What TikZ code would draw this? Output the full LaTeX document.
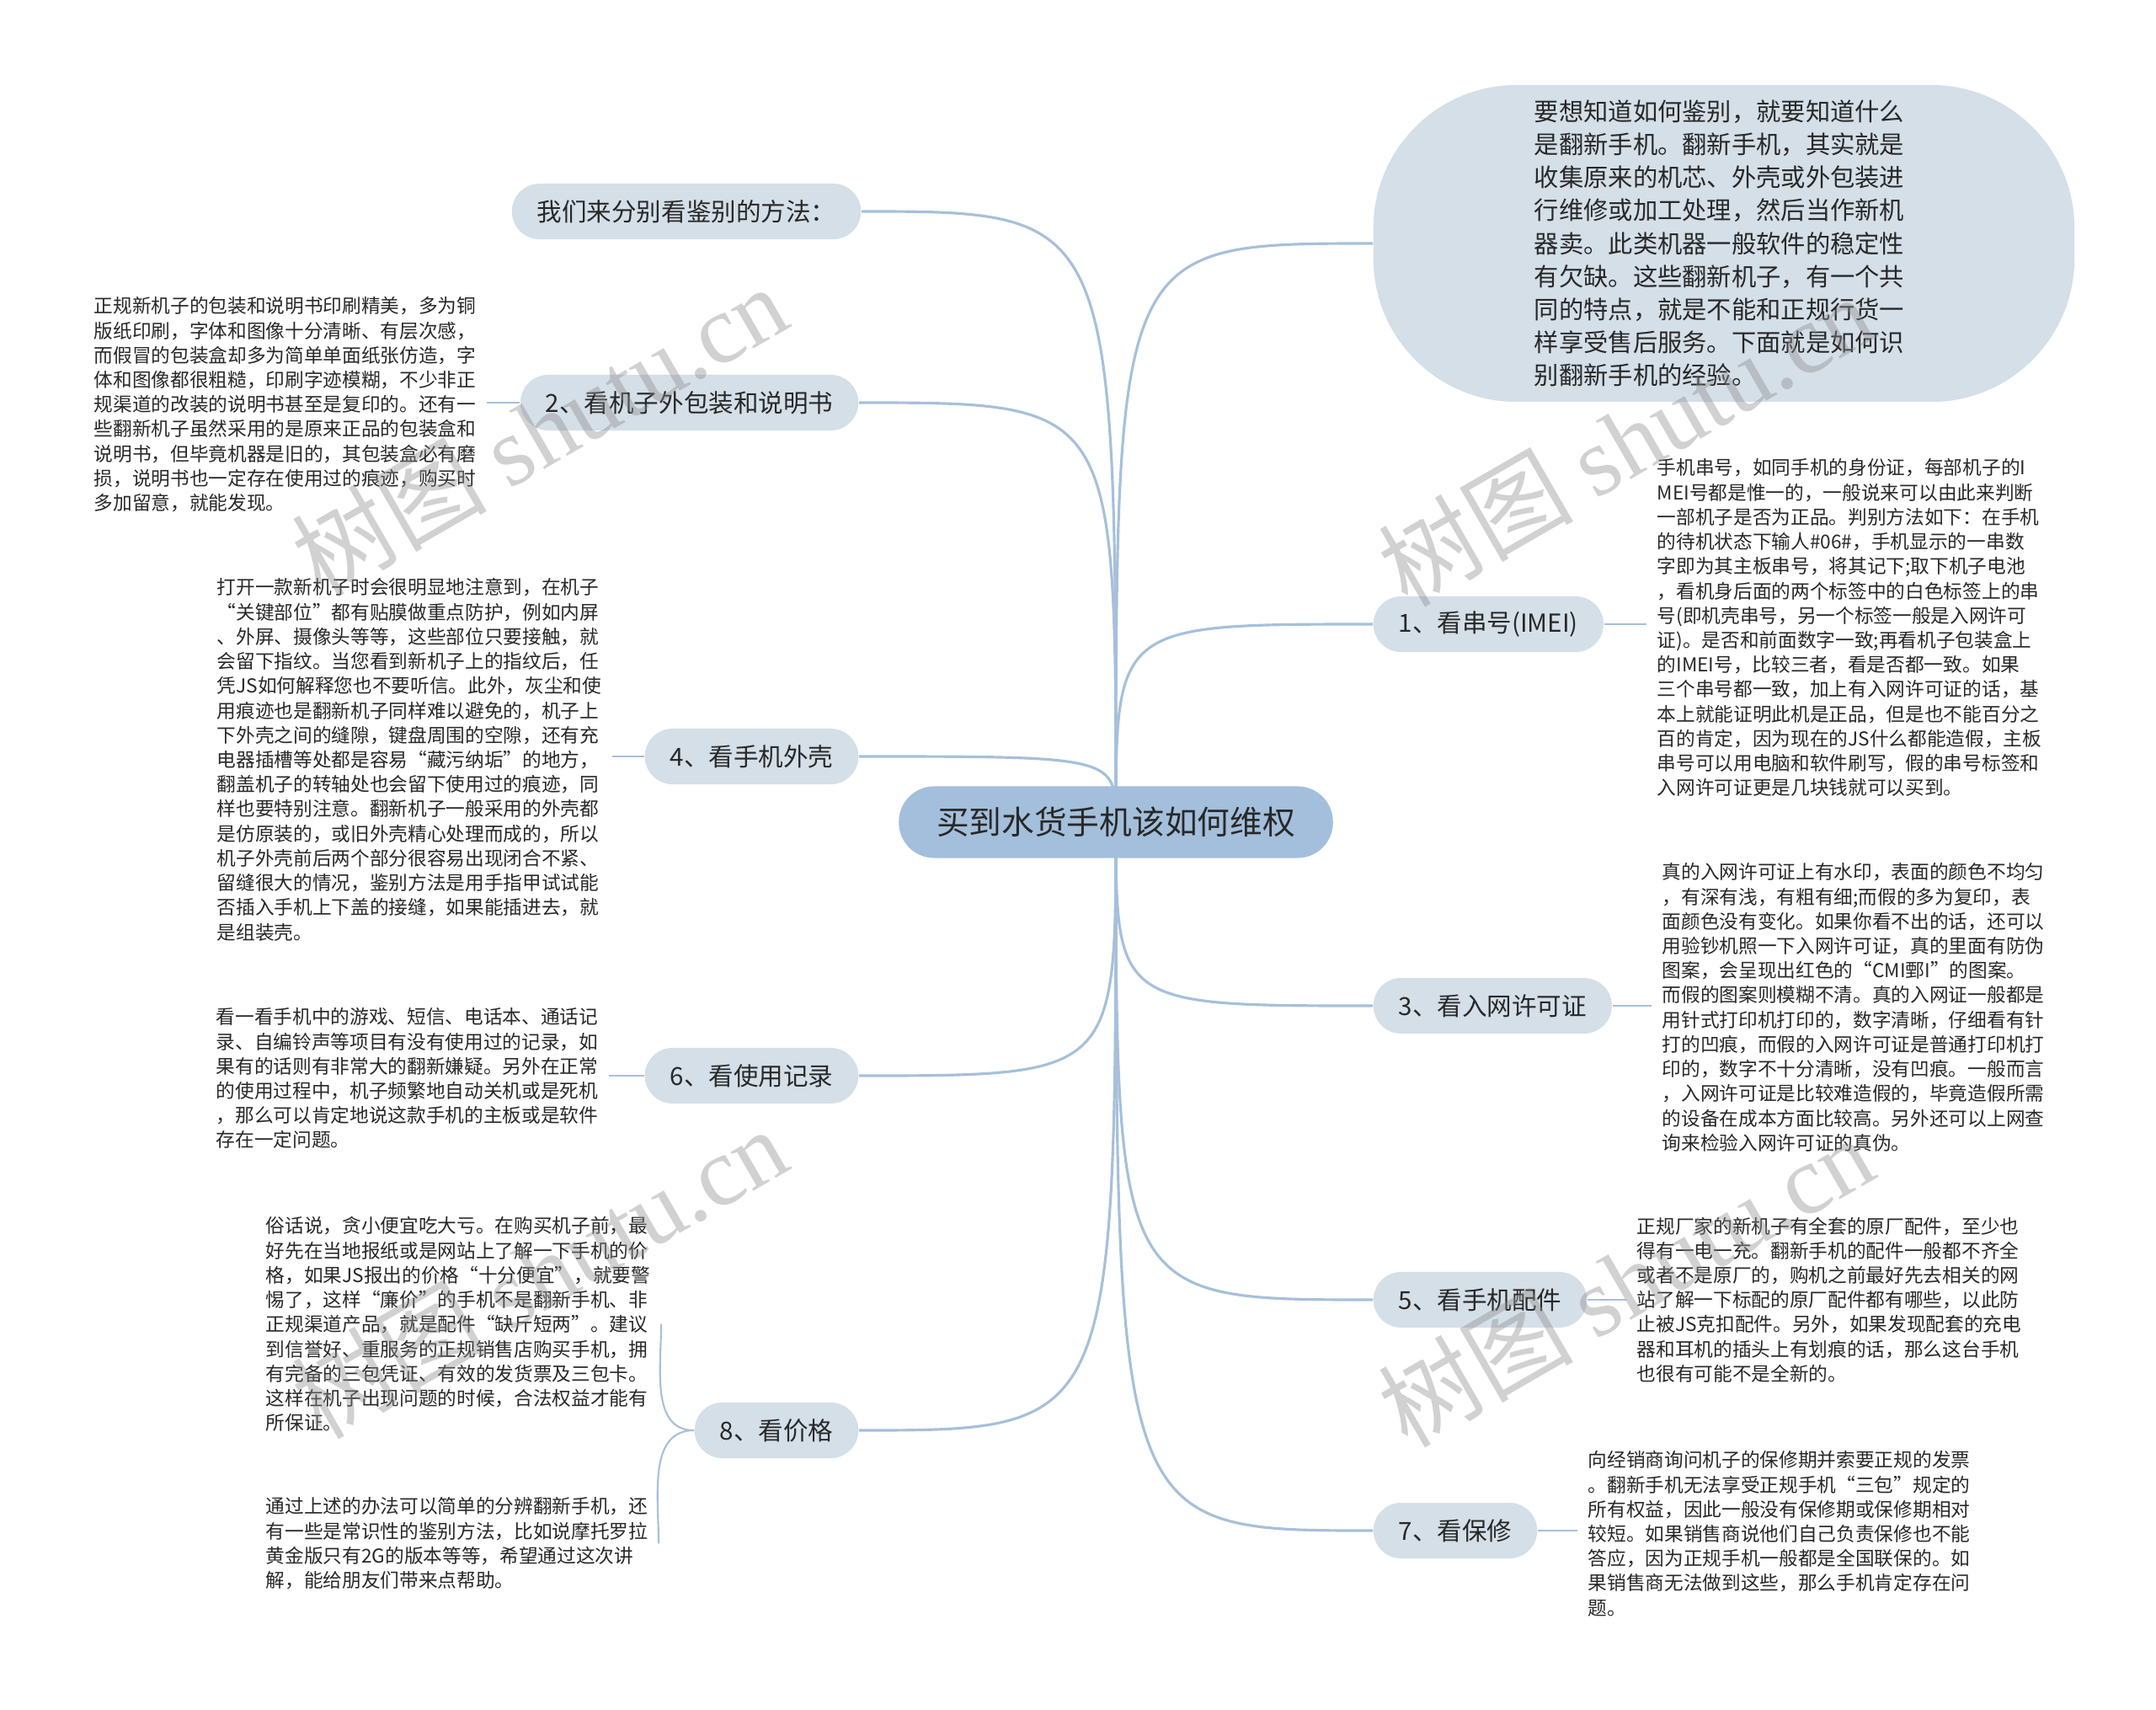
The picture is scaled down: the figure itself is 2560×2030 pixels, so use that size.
\documentclass[tikz,border=0pt]{standalone}
\usepackage{fontspec}
\setmainfont{Noto Sans CJK SC}
\newfontfamily\wmserif{Liberation Serif}
\usetikzlibrary{backgrounds, calc}
\definecolor{rootfill}{RGB}{163,191,219}
\definecolor{subfill}{RGB}{212,223,232}
\definecolor{linkblue}{RGB}{166,192,218}
\definecolor{txtgray}{RGB}{40,40,40}
\tikzset{
  rootnode/.style={rectangle, rounded corners=0.42cm, fill=rootfill,
                   text=txtgray, minimum height=0.85cm, inner xsep=0.45cm,
                   font=\fontsize{11pt}{13pt}\selectfont},
  subnode/.style={rectangle, rounded corners=0.33cm, fill=subfill,
                  text=txtgray, minimum height=0.66cm, inner xsep=0.3cm,
                  font=\fontsize{8.4pt}{10pt}\selectfont},
  leaftext/.style={anchor=north west, align=left, inner xsep=0.12cm,
                   inner ysep=0pt, text=txtgray,
                   font=\fontsize{6.45pt}{8.31pt}\selectfont},
  link/.style={draw=linkblue, line width=0.9pt},
  leaflink/.style={draw=linkblue, line width=0.6pt},
  wmark/.style={text=black!45, text opacity=0.4, rotate=30,
                font=\fontsize{33pt}{33pt}\selectfont},
}

\begin{document}
\begin{tikzpicture}[x=0.01cm, y=-0.01cm]
  \useasboundingbox (0,0) rectangle (2560,2030);

  % centre topic
  \node[rootnode] (root) at (1325,976) {买到水货手机该如何维权};

  % left branches
  \node[subnode, anchor=east] (ask) at (1023,251) {我们来分别看鉴别的方法：};
  \node[subnode, anchor=east] (box) at (1020,478) {2、看机子外包装和说明书};
  \node[subnode, anchor=east] (shell) at (1020,898) {4、看手机外壳};
  \node[subnode, anchor=east] (usage) at (1020,1277) {6、看使用记录};
  \node[subnode, anchor=east] (price) at (1020,1698) {8、看价格};

  % right branches
  \node[subnode, anchor=west, minimum width=8.32cm, minimum height=3.76cm,
        rounded corners=1.7cm, text width=4.5cm, align=left,
        font=\fontsize{8.33pt}{11.15pt}\selectfont] (intro) at (1630,289)
    {要想知道如何鉴别，就要知道什么\\
     是翻新手机。翻新手机，其实就是\\
     收集原来的机芯、外壳或外包装进\\
     行维修或加工处理，然后当作新机\\
     器卖。此类机器一般软件的稳定性\\
     有欠缺。这些翻新机子，有一个共\\
     同的特点，就是不能和正规行货一\\
     样享受售后服务。下面就是如何识\\
     别翻新手机的经验。};
  \node[subnode, anchor=west] (imei) at (1630,741) {1、看串号(IMEI)};
  \node[subnode, anchor=west] (permit) at (1630,1194) {3、看入网许可证};
  \node[subnode, anchor=west] (parts) at (1630,1543) {5、看手机配件};
  \node[subnode, anchor=west] (repair) at (1630,1817) {7、看保修};

  % leaf texts, left
  \node[leaftext] (boxtxt) at (99,352)
    {正规新机子的包装和说明书印刷精美，多为铜\\
     版纸印刷，字体和图像十分清晰、有层次感，\\
     而假冒的包装盒却多为简单单面纸张仿造，字\\
     体和图像都很粗糙，印刷字迹模糊，不少非正\\
     规渠道的改装的说明书甚至是复印的。还有一\\
     些翻新机子虽然采用的是原来正品的包装盒和\\
     说明书，但毕竟机器是旧的，其包装盒必有磨\\
     损，说明书也一定存在使用过的痕迹，购买时\\
     多加留意，就能发现。};
  \node[leaftext] (shelltxt) at (245,686)
    {打开一款新机子时会很明显地注意到，在机子\\
     “关键部位”都有贴膜做重点防护，例如内屏\\
     、外屏、摄像头等等，这些部位只要接触，就\\
     会留下指纹。当您看到新机子上的指纹后，任\\
     凭JS如何解释您也不要听信。此外，灰尘和使\\
     用痕迹也是翻新机子同样难以避免的，机子上\\
     下外壳之间的缝隙，键盘周围的空隙，还有充\\
     电器插槽等处都是容易“藏污纳垢”的地方，\\
     翻盖机子的转轴处也会留下使用过的痕迹，同\\
     样也要特别注意。翻新机子一般采用的外壳都\\
     是仿原装的，或旧外壳精心处理而成的，所以\\
     机子外壳前后两个部分很容易出现闭合不紧、\\
     留缝很大的情况，鉴别方法是用手指甲试试能\\
     否插入手机上下盖的接缝，如果能插进去，就\\
     是组装壳。};
  \node[leaftext] (usagetxt) at (244,1196)
    {看一看手机中的游戏、短信、电话本、通话记\\
     录、自编铃声等项目有没有使用过的记录，如\\
     果有的话则有非常大的翻新嫌疑。另外在正常\\
     的使用过程中，机子频繁地自动关机或是死机\\
     ，那么可以肯定地说这款手机的主板或是软件\\
     存在一定问题。};
  \node[leaftext] (pricetxt) at (303,1444)
    {俗话说，贪小便宜吃大亏。在购买机子前，最\\
     好先在当地报纸或是网站上了解一下手机的价\\
     格，如果JS报出的价格“十分便宜”，就要警\\
     惕了，这样“廉价”的手机不是翻新手机、非\\
     正规渠道产品，就是配件“缺斤短两”。建议\\
     到信誉好、重服务的正规销售店购买手机，拥\\
     有完备的三包凭证、有效的发货票及三包卡。\\
     这样在机子出现问题的时候，合法权益才能有\\
     所保证。};
  \node[leaftext] (endtxt) at (303,1777)
    {通过上述的办法可以简单的分辨翻新手机，还\\
     有一些是常识性的鉴别方法，比如说摩托罗拉\\
     黄金版只有2G的版本等等，希望通过这次讲\\
     解，能给朋友们带来点帮助。};

  % leaf texts, right
  \node[leaftext] (imeitxt) at (1955,544)
    {手机串号，如同手机的身份证，每部机子的I\\
     MEI号都是惟一的，一般说来可以由此来判断\\
     一部机子是否为正品。判别方法如下：在手机\\
     的待机状态下输人\#06\#，手机显示的一串数\\
     字即为其主板串号，将其记下;取下机子电池\\
     ，看机身后面的两个标签中的白色标签上的串\\
     号(即机壳串号，另一个标签一般是入网许可\\
     证)。是否和前面数字一致;再看机子包装盒上\\
     的IMEI号，比较三者，看是否都一致。如果\\
     三个串号都一致，加上有入网许可证的话，基\\
     本上就能证明此机是正品，但是也不能百分之\\
     百的肯定，因为现在的JS什么都能造假，主板\\
     串号可以用电脑和软件刷写，假的串号标签和\\
     入网许可证更是几块钱就可以买到。};
  \node[leaftext] (permittxt) at (1961,1024)
    {真的入网许可证上有水印，表面的颜色不均匀\\
     ，有深有浅，有粗有细;而假的多为复印，表\\
     面颜色没有变化。如果你看不出的话，还可以\\
     用验钞机照一下入网许可证，真的里面有防伪\\
     图案，会呈现出红色的“CMI鄄I”的图案。\\
     而假的图案则模糊不清。真的入网证一般都是\\
     用针式打印机打印的，数字清晰，仔细看有针\\
     打的凹痕，而假的入网许可证是普通打印机打\\
     印的，数字不十分清晰，没有凹痕。一般而言\\
     ，入网许可证是比较难造假的，毕竟造假所需\\
     的设备在成本方面比较高。另外还可以上网查\\
     询来检验入网许可证的真伪。};
  \node[leaftext] (partstxt) at (1931,1444)
    {正规厂家的新机子有全套的原厂配件，至少也\\
     得有一电一充。翻新手机的配件一般都不齐全\\
     或者不是原厂的，购机之前最好先去相关的网\\
     站了解一下标配的原厂配件都有哪些，以此防\\
     止被JS克扣配件。另外，如果发现配套的充电\\
     器和耳机的插头上有划痕的话，那么这台手机\\
     也很有可能不是全新的。};
  \node[leaftext] (repairtxt) at (1873,1722)
    {向经销商询问机子的保修期并索要正规的发票\\
     。翻新手机无法享受正规手机“三包”规定的\\
     所有权益，因此一般没有保修期或保修期相对\\
     较短。如果销售商说他们自己负责保修也不能\\
     答应，因为正规手机一般都是全国联保的。如\\
     果销售商无法做到这些，那么手机肯定存在问\\
     题。};

  % connectors behind the nodes
  \begin{scope}[on background layer]
    \foreach \b in {ask, box, shell, usage, price}
      \draw[link] (root.center) .. controls (root.center |- \b.east) .. (\b.east);
    \foreach \b in {intro, imei, permit, parts, repair}
      \draw[link] (root.center) .. controls (root.center |- \b.west) .. (\b.west);

    \draw[leaflink] (box.west) -- (box.west -| boxtxt.east);
    \draw[leaflink] (shell.west) -- (shell.west -| shelltxt.east);
    \draw[leaflink] (usage.west) -- (usage.west -| usagetxt.east);
    \draw[leaflink] (price.west) to[out=180, in=270] (pricetxt.east);
    \draw[leaflink] (price.west) to[out=180, in=90] (endtxt.east);

    \draw[leaflink] (imei.east) -- (imei.east -| imeitxt.west);
    \draw[leaflink] (permit.east) -- (permit.east -| permittxt.west);
    \draw[leaflink] (parts.east) -- (parts.east -| partstxt.west);
    \draw[leaflink] (repair.east) -- (repair.east -| repairtxt.west);
  \end{scope}

  % watermarks
  \node[wmark] (wm1) at (640,510) {树图 {\wmserif shutu.cn}};
  \node[wmark] (wm2) at (1930,522) {树图 {\wmserif shutu.cn}};
  \node[wmark] (wm3) at (640,1510) {树图 {\wmserif shutu.cn}};
  \node[wmark] (wm4) at (1930,1520) {树图 {\wmserif shutu.cn}};
\end{tikzpicture}
\end{document}
